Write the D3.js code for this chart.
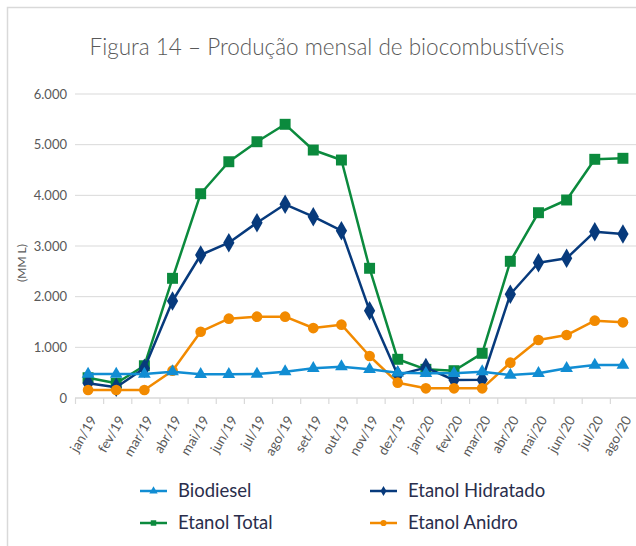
<!DOCTYPE html>
<html>
<head>
  <title>Figura 14</title>
  <style type="text/css">
    body { margin: 0; background: #fff; }
    svg { display: block; }
  </style>
</head>
<body>

<div id="chart"></div>

<script src="https://d3js.org/d3.v7.min.js"></script>
<script type="text/javascript">
var months = ["jan/19","fev/19","mar/19","abr/19","mai/19","jun/19","jul/19","ago/19","set/19","out/19",
              "nov/19","dez/19","jan/20","fev/20","mar/20","abr/20","mai/20","jun/20","jul/20","ago/20"];
var biodiesel = [474,474,474,519,468,468,474,519,586,618,566,499,487,487,519,454,487,586,651,651];
var hidratado = [290,211,586,1914,2822,3065,3460,3823,3578,3302,1723,454,600,355,360,2047,2670,2757,3282,3237];
var total     = [400,290,637,2362,4032,4663,5058,5402,4894,4697,2560,764,566,539,882,2698,3657,3908,4711,4731];
var anidro    = [158,158,158,539,1308,1565,1605,1605,1381,1447,829,302,191,191,191,697,1145,1243,1526,1494];
var yTicks = [0, 1000, 2000, 3000, 4000, 5000, 6000];

var width = 636, height = 546;
var fmt = d3.format(",.0f");
var ptFmt = v => fmt(v).replace(/,/g, ".");
var font = "Lato, 'Open Sans', sans-serif";

var svg = d3.select("#chart")
  .append("svg")
  .attr("width", width)
  .attr("height", height);

// outer frame
svg.append("rect")
  .attr("x", 7.5).attr("y", 7.5)
  .attr("width", 660).attr("height", 600)
  .attr("fill", "none")
  .attr("stroke", "#d9d9d9")
  .attr("stroke-width", 1.5);

svg.append("text")
  .attr("x", 327)
  .attr("y", 55)
  .attr("text-anchor", "middle")
  .style("font-family", font)
  .style("font-weight", 300)
  .style("font-size", "22.5px")
  .style("fill", "#595959")
  .text("Figura 14 – Produção mensal de biocombustíveis");

var x = d3.scaleBand()
  .domain(months)
  .range([74, 637]);
var y = d3.scaleLinear()
  .domain([0, 6000])
  .range([398, 94]);

// gridlines
svg.append("g")
  .selectAll("line")
  .data(yTicks.slice(1))
  .enter()
  .append("line")
  .attr("x1", 75).attr("x2", 640)
  .attr("y1", d => y(d)).attr("y2", d => y(d))
  .attr("stroke", "#d9d9d9")
  .attr("stroke-width", 1);

// y axis labels
svg.append("g")
  .attr("transform", "translate(67,0)")
  .call(d3.axisLeft(y).tickValues(yTicks).tickFormat(ptFmt).tickSize(0).tickPadding(0))
  .call(g => g.select(".domain").remove())
  .call(g => g.selectAll("text")
    .style("font-family", font)
    .style("font-size", "13px")
    .style("fill", "#595959"));

svg.append("text")
  .attr("transform", "translate(26,263) rotate(-90)")
  .attr("text-anchor", "middle")
  .style("font-family", font)
  .style("font-size", "12px")
  .style("fill", "#595959")
  .text("(MM L)");

// x axis
var xAxis = svg.append("g")
  .attr("transform", `translate(0,${y(0)})`);
xAxis.append("line")
  .attr("x1", 75).attr("x2", 640)
  .attr("stroke", "#d9d9d9").attr("stroke-width", 1.5);
xAxis.selectAll(".tick")
  .data(months)
  .enter()
  .append("line")
  .attr("x1", d => x(d) + 1.5).attr("x2", d => x(d) + 1.5)
  .attr("y1", 0).attr("y2", 6)
  .attr("stroke", "#d9d9d9").attr("stroke-width", 1.2);
xAxis.selectAll(".lbl")
  .data(months)
  .enter()
  .append("text")
  .attr("transform", d => `translate(${x(d) + x.bandwidth() / 2 + 5},19) rotate(-60)`)
  .attr("text-anchor", "end")
  .attr("dy", "0.35em")
  .style("font-family", font)
  .style("font-size", "13.5px")
  .style("fill", "#595959")
  .text(d => d);

var series = [
  { name: "Etanol Total", values: total, color: "#0b8a3d", shape: d3.symbolSquare, size: 120 },
  { name: "Etanol Hidratado", values: hidratado, color: "#073a7c", shape: d3.symbolDiamond, size: 110 },
  { name: "Etanol Anidro", values: anidro, color: "#f28a00", shape: d3.symbolCircle, size: 90 },
  { name: "Biodiesel", values: biodiesel, color: "#118dd3", shape: d3.symbolTriangle, size: 70 }
];

var cx = (d, i) => x(months[i]) + x.bandwidth() / 2;
var line = d3.line()
  .x(cx)
  .y(d => y(d));

var plot = svg.append("g");
series.forEach(s => {
  var g = plot.append("g");
  g.append("path")
    .datum(s.values)
    .attr("d", line)
    .attr("fill", "none")
    .attr("stroke", s.color)
    .attr("stroke-width", 2.5)
    .attr("stroke-linejoin", "round");
  g.selectAll("path.pt")
    .data(s.values)
    .enter()
    .append("path")
    .attr("class", "pt")
    .attr("d", d3.symbol().type(s.shape).size(s.size))
    .attr("transform", (d, i) => `translate(${cx(d, i)},${y(d)})`)
    .attr("fill", s.color);
});

// legend
var legendItems = [
  { name: "Biodiesel", color: "#118dd3", shape: d3.symbolTriangle, col: 0, row: 0 },
  { name: "Etanol Hidratado", color: "#073a7c", shape: d3.symbolDiamond, col: 1, row: 0 },
  { name: "Etanol Total", color: "#0b8a3d", shape: d3.symbolSquare, col: 0, row: 1 },
  { name: "Etanol Anidro", color: "#f28a00", shape: d3.symbolCircle, col: 1, row: 1 }
];
var legend = svg.append("g");
var li = legend.selectAll("g")
  .data(legendItems)
  .enter()
  .append("g")
  .attr("transform", d => `translate(${d.col ? 370 : 140},${d.row ? 523 : 491})`);
li.append("line")
  .attr("x1", 0).attr("x2", 27)
  .attr("stroke", d => d.color)
  .attr("stroke-width", 2.5);
li.append("path")
  .attr("transform", "translate(13.5,0)")
  .attr("d", d => d3.symbol().type(d.shape).size(30)())
  .attr("fill", d => d.color);
li.append("text")
  .attr("x", 38)
  .attr("dy", "0.35em")
  .style("font-family", font)
  .style("font-size", "18.5px")
  .style("fill", "#2a2e4c")
  .text(d => d.name);
</script>
</body>
</html>
